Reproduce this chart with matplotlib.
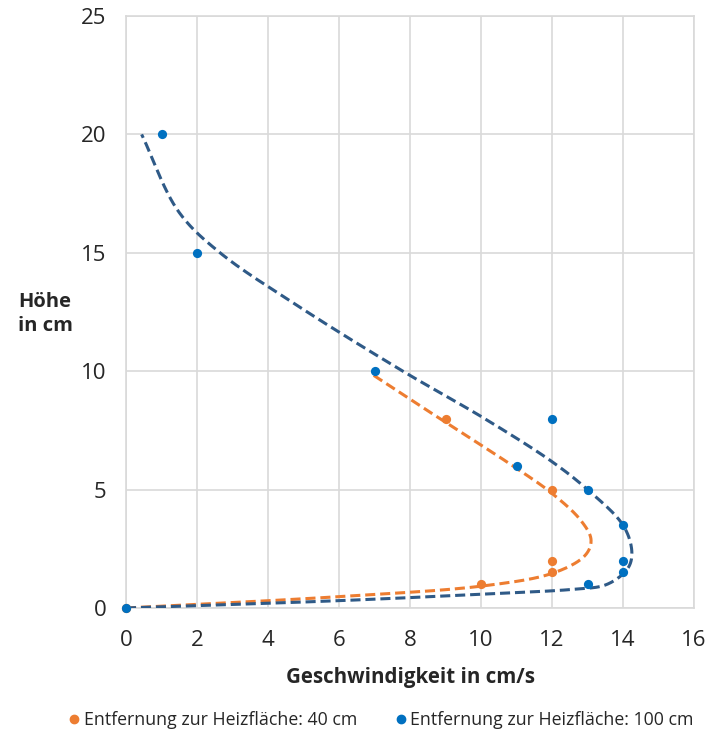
import numpy as np
import matplotlib
matplotlib.use("Agg")
import matplotlib.pyplot as plt
from matplotlib.lines import Line2D

plt.rcParams["font.family"] = ["Open Sans", "DejaVu Sans"]

# measured points (Geschwindigkeit in cm/s, Höhe in cm)
speed_40 = [0, 10, 12, 12, 12, 9]
height_40 = [0, 1, 1.5, 2, 5, 8]

speed_100 = [0, 13, 14, 14, 14, 13, 11, 12, 7, 2, 1]
height_100 = [0, 1, 1.5, 2, 3.5, 5, 6, 8, 10, 15, 20]

# hand-drawn trend curves
trend_speed_40 = [0, 6.0, 10.1, 12.0, 12.9, 13.1, 12.8, 12.0, 11.0, 8.9, 6.9]
trend_height_40 = [0, 0.48, 0.94, 1.46, 2.17, 2.87, 3.72, 4.84, 5.9, 7.94, 9.9]

trend_speed_100 = [0, 6.0, 10.1, 12.6, 13.5, 14.1, 14.25, 14.0, 13.0, 12.0,
                   10.1, 7.8, 4.9, 2.65, 1.5, 0.44]
trend_height_100 = [0, 0.31, 0.59, 0.79, 0.97, 1.6, 2.3, 3.5, 5.0, 6.18,
                    8.0, 10.0, 12.7, 15.0, 16.7, 20.0]

ORANGE = "#ED7D31"
BLUE = "#0070C0"
DARK_BLUE = "#2F5A87"
GRID = "#D9D9D9"
TEXT = "#262626"


def smooth(xs, ys, steps=30, alpha=0.5):
    # centripetal Catmull-Rom through the control points (smoothed line)
    pts = np.column_stack([xs, ys]).astype(float)
    pts = np.vstack([2 * pts[0] - pts[1], pts, 2 * pts[-1] - pts[-2]])
    out = []
    for i in range(1, len(pts) - 2):
        p0, p1, p2, p3 = pts[i - 1], pts[i], pts[i + 1], pts[i + 2]
        t0 = 0.0
        t1 = t0 + np.linalg.norm(p1 - p0) ** alpha
        t2 = t1 + np.linalg.norm(p2 - p1) ** alpha
        t3 = t2 + np.linalg.norm(p3 - p2) ** alpha
        t = np.linspace(t1, t2, steps, endpoint=False)[:, None]
        a1 = (t1 - t) / (t1 - t0) * p0 + (t - t0) / (t1 - t0) * p1
        a2 = (t2 - t) / (t2 - t1) * p1 + (t - t1) / (t2 - t1) * p2
        a3 = (t3 - t) / (t3 - t2) * p2 + (t - t2) / (t3 - t2) * p3
        b1 = (t2 - t) / (t2 - t0) * a1 + (t - t0) / (t2 - t0) * a2
        b2 = (t3 - t) / (t3 - t1) * a2 + (t - t1) / (t3 - t1) * a3
        out.append((t2 - t) / (t2 - t1) * b1 + (t - t1) / (t2 - t1) * b2)
    out.append(pts[-2][None, :])
    out = np.vstack(out)
    return out[:, 0], out[:, 1]


fig = plt.figure(figsize=(7.11, 7.33), dpi=100)
ax = fig.add_axes([126 / 711, 1 - 608 / 733, 568 / 711, 592 / 733])

x40, y40 = smooth(trend_speed_40, trend_height_40)
x100, y100 = smooth(trend_speed_100, trend_height_100)

ax.plot(x40, y40, color=ORANGE, linewidth=2.2, dashes=(3.3, 1.6), zorder=3)
ax.plot(x100, y100, color=DARK_BLUE, linewidth=2.2, dashes=(3.3, 1.6), zorder=3)

ax.scatter(speed_40, height_40, s=44, color=ORANGE, zorder=4, linewidths=0,
           clip_on=False)
ax.scatter(speed_100, height_100, s=44, color=BLUE, zorder=5, linewidths=0,
           clip_on=False)

ax.set_xlim(0, 16)
ax.set_ylim(0, 25)
ax.set_xticks(np.arange(0, 17, 2))
ax.set_yticks(np.arange(0, 26, 5))
ax.grid(True, color=GRID, linewidth=1.2)
ax.set_axisbelow(True)
for side in ["top", "right", "left", "bottom"]:
    ax.spines[side].set_color(GRID)
    ax.spines[side].set_linewidth(1.2)
ax.tick_params(length=0, labelsize=16, colors=TEXT)
ax.tick_params(axis="y", pad=14)
ax.tick_params(axis="x", pad=16)

ax.set_xlabel("Geschwindigkeit in cm/s", fontsize=14.8, fontweight="bold",
              color=TEXT, labelpad=11)
fig.text(18 / 711, 1 - 314 / 733, "Höhe\nin cm", fontsize=14.5,
         fontweight="bold", color=TEXT, ha="left", va="center",
         linespacing=1.25)

handles = [
    Line2D([], [], marker="o", linestyle="", color=ORANGE, markersize=6),
    Line2D([], [], marker="o", linestyle="", color=BLUE, markersize=6),
]
fig.legend(handles,
           ["Entfernung zur Heizfläche: 40 cm", "Entfernung zur Heizfläche: 100 cm"],
           loc="center", bbox_to_anchor=(380 / 711, 1 - 720 / 733), ncol=2,
           frameon=False, fontsize=12.8, handletextpad=0.1, columnspacing=2.0,
           handlelength=0.9, labelcolor=TEXT)

fig.savefig("out.png", dpi=100)
